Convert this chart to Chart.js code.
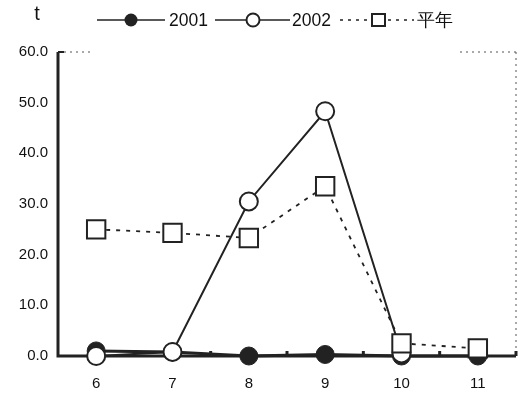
<!DOCTYPE html>
<html><head><meta charset="utf-8">
<script src="https://cdn.jsdelivr.net/npm/chart.js@4/dist/chart.umd.min.js"></script>
<style>html,body{margin:0;padding:0;background:#fff}#wrap{width:524px;height:394px;position:relative}</style>
</head><body><div id="wrap"><canvas id="c" width="524" height="394"></canvas></div>
<script>
const categories = ['6','7','8','9','10','11'];
const s2001 = [1.0, 0.8, 0.0, 0.3, 0.0, 0.0];
const s2002 = [0.0, 0.8, 30.5, 48.3, 0.5, null];
const sAvg = [25.0, 24.3, 23.3, 33.5, 2.5, 1.5];
const seriesNames = ['2001', '2002', '平年'];
const yTicks = [0, 10, 20, 30, 40, 50, 60];
const unitLabel = 't';

const FONT = 'Liberation Sans, Arial, sans-serif';
const RIGHT_GAP = 8;

const frame = {
  id: 'frame',
  afterLayout(chart) {
    const a = chart.chartArea, x = chart.scales.x;
    a.right = chart.width - RIGHT_GAP;
    a.width = a.right - a.left;
    x.right = a.right;
    x.width = x.right - x.left;
    x.configure();
  },
  beforeDatasetsDraw(chart) {
    const {ctx, chartArea: a, scales: {x}} = chart;
    ctx.save();
    ctx.strokeStyle = '#555'; ctx.lineWidth = 1; ctx.setLineDash([2, 4]);
    ctx.beginPath();
    ctx.moveTo(a.right, a.top); ctx.lineTo(a.right, a.bottom);
    ctx.moveTo(a.left, a.top); ctx.lineTo(a.left + 32, a.top);
    ctx.moveTo(a.right - 56, a.top); ctx.lineTo(a.right, a.top);
    ctx.stroke();
    ctx.setLineDash([]);
    ctx.strokeStyle = '#222'; ctx.lineWidth = 3;
    ctx.beginPath();
    ctx.moveTo(a.left, a.top); ctx.lineTo(a.left, a.bottom); ctx.lineTo(a.right, a.bottom);
    ctx.stroke();
    ctx.lineWidth = 2;
    ctx.beginPath(); ctx.moveTo(a.left, a.top); ctx.lineTo(a.left + 6, a.top); ctx.stroke();
    ctx.lineWidth = 3;
    const step = x.getPixelForValue(1) - x.getPixelForValue(0);
    for (let i = 0; i < categories.length; i++) {
      const m = x.getPixelForValue(i) + step / 2;
      ctx.beginPath(); ctx.moveTo(m, a.bottom); ctx.lineTo(m, a.bottom - 5); ctx.stroke();
    }
    ctx.restore();
  },
  afterDraw(chart) {
    const ctx = chart.ctx;
    ctx.save();
    ctx.fillStyle = '#111';
    ctx.font = '20px ' + FONT;
    ctx.textBaseline = 'middle'; ctx.textAlign = 'center';
    ctx.fillText(unitLabel, 37, 14);
    const y = 20;
    ctx.font = '17.5px ' + FONT; ctx.textAlign = 'left';
    ctx.strokeStyle = '#222';
    ctx.lineWidth = 1.5;
    ctx.beginPath(); ctx.moveTo(97, y); ctx.lineTo(165, y); ctx.stroke();
    ctx.beginPath(); ctx.arc(131, y, 6.5, 0, Math.PI * 2); ctx.fillStyle = '#222'; ctx.fill();
    ctx.fillStyle = '#111'; ctx.fillText(seriesNames[0], 169, y + 1);
    ctx.beginPath(); ctx.moveTo(215, y); ctx.lineTo(290, y); ctx.stroke();
    ctx.beginPath(); ctx.arc(253, y, 6.5, 0, Math.PI * 2); ctx.fillStyle = '#fff'; ctx.fill(); ctx.lineWidth = 2; ctx.stroke();
    ctx.fillStyle = '#111'; ctx.fillText(seriesNames[1], 292, y + 1);
    ctx.lineWidth = 1.5; ctx.setLineDash([3, 5]);
    ctx.beginPath(); ctx.moveTo(340, y); ctx.lineTo(414, y); ctx.stroke();
    ctx.setLineDash([]);
    ctx.fillStyle = '#fff'; ctx.fillRect(372, y - 6, 13, 12); ctx.lineWidth = 2; ctx.strokeRect(372, y - 6, 13, 12);
    ctx.fillStyle = '#111'; ctx.fillText(seriesNames[2], 417, y + 1);
    ctx.restore();
  }
};

new Chart(document.getElementById('c'), {
  type: 'line',
  data: {
    labels: categories,
    datasets: [
      { label: seriesNames[2], data: sAvg, order: 0, borderColor: '#222', borderWidth: 1.8, borderDash: [4, 6],
        pointStyle: 'rect', pointRadius: 13, pointBackgroundColor: '#fff', pointBorderColor: '#222', pointBorderWidth: 2, clip: false },
      { label: seriesNames[1], data: s2002, order: 1, borderColor: '#222', borderWidth: 2,
        pointStyle: 'circle', pointRadius: 9, pointBackgroundColor: '#fff', pointBorderColor: '#222', pointBorderWidth: 2, clip: false },
      { label: seriesNames[0], data: s2001, order: 2, borderColor: '#222', borderWidth: 3,
        pointStyle: 'circle', pointRadius: 9, pointBackgroundColor: '#222', pointBorderColor: '#222', pointBorderWidth: 1, clip: false }
    ]
  },
  options: {
    responsive: false, animation: false,
    layout: { padding: { top: 52, right: 8, bottom: 0, left: 0 } },
    plugins: { legend: { display: false }, tooltip: { enabled: false } },
    elements: { line: { tension: 0 } },
    scales: {
      x: { offset: true, grid: { display: false, drawTicks: false }, border: { display: false },
           afterFit(s) { s.height = 38; s.paddingLeft = 0; s.paddingRight = 0; },
           ticks: { color: '#111', font: { size: 15, family: FONT }, padding: 19 } },
      y: { min: 0, max: 60, afterBuildTicks(s) { s.ticks = yTicks.map(v => ({ value: v })); },
           grid: { display: false, drawTicks: false }, border: { display: false },
           afterFit(s) { s.width = 58; s.paddingTop = 0; s.paddingBottom = 0; },
           ticks: { color: '#111', font: { size: 15, family: FONT }, padding: 10, callback: v => Number(v).toFixed(1) } }
    }
  },
  plugins: [frame]
});
</script></body></html>
